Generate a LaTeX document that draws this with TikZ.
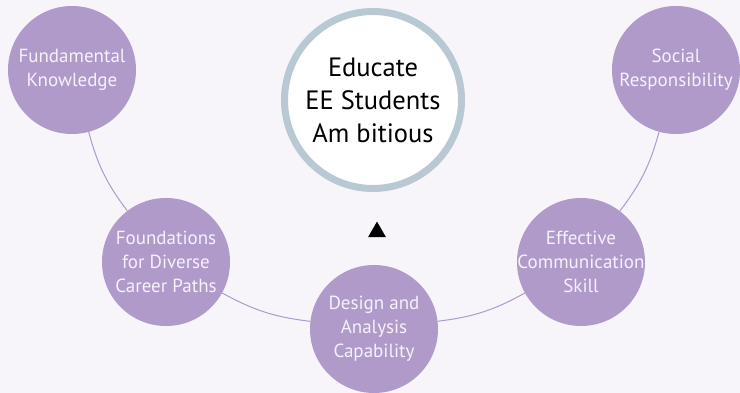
\documentclass[tikz,border=0pt]{standalone}
\usepackage{fontspec}
\setmainfont{PT Sans}
\usetikzlibrary{shapes.geometric}

\begin{document}
\begin{tikzpicture}[x=1pt,y=-1pt]
    % Define colors
    \definecolor{bgcolor}{RGB}{247,244,250}
    \definecolor{nodecolor}{RGB}{176,154,202}
    \definecolor{ringcolor}{RGB}{184,201,211}
    \definecolor{textcolor}{RGB}{245,241,250}
    \tikzset{
        goal/.style={circle, fill=nodecolor, minimum size=128pt, inner sep=-12pt,
            align=center, text=textcolor, font=\fontsize{19}{24}\selectfont},
        link/.style={nodecolor, line width=1pt},
    }

    % Background
    \fill[bgcolor] (0,0) rectangle (740,393);
    \useasboundingbox (0,0) rectangle (740,393);

    % Center
    \node[circle, draw=ringcolor, line width=7pt, fill=white, minimum size=177pt,
        inner sep=0pt, align=center, font=\fontsize{26.5}{33}\selectfont] (edu) at (373,100)
        {Educate\\EE Students\\Am bitious};

    % Outcomes
    \node[goal] (fk) at (72,70) {Fundamental\\Knowledge};
    \node[goal] (fd) at (166,262) {Foundations\\for Diverse\\Career Paths};
    \node[goal] (da) at (374,329) {Design and\\Analysis\\Capability};
    \node[goal] (ec) at (581,262) {Effective\\Communication\\Skill};
    \node[goal] (sr) at (676,70) {Social\\Responsibility};

    % Connect outcomes
    \foreach \a/\b in {fk/fd, fd/da, da/ec, ec/sr}
        \draw[link] (\a) to[bend right=11] (\b);

    % Marker
    \node[regular polygon, regular polygon sides=3, fill=black, minimum size=20.8pt,
        inner sep=0pt] (mark) at (377,232) {};
\end{tikzpicture}
\end{document}
